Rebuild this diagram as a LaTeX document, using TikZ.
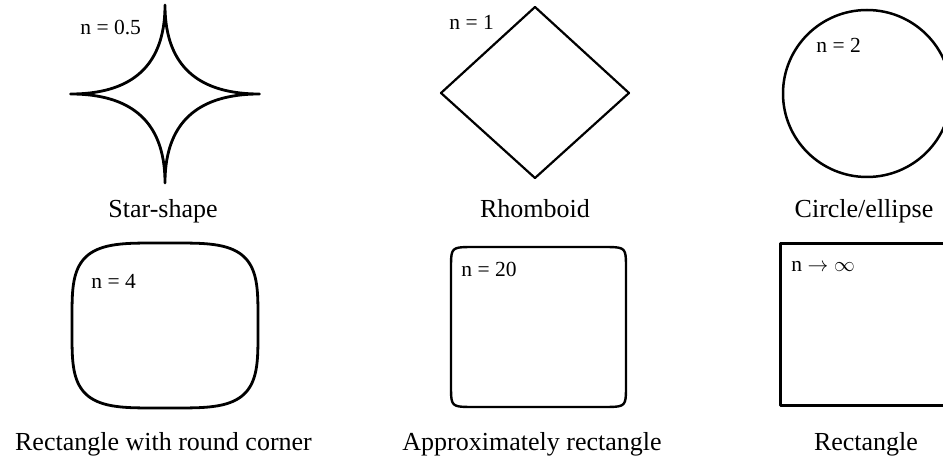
\documentclass[tikz,border=0pt]{standalone}
\usepackage{fontspec}
\setmainfont{Liberation Serif}
\usepackage{tikz}

\begin{document}
\begin{tikzpicture}[x=1pt, y=-1pt, line width=2.8pt, line join=round,
    tag/.style={anchor=base west, inner sep=0pt, font=\fontsize{21.5}{24}\selectfont},
    caption/.style={anchor=base, inner sep=0pt, font=\fontsize{26}{30}\selectfont},
    declare function={cx(\t,\e)=sign(cos(\t))*pow(abs(cos(\t)),\e);
                      sy(\t,\e)=sign(sin(\t))*pow(abs(sin(\t)),\e);}]
    \useasboundingbox (0,0) rectangle (943,462);
    \clip (0,0) rectangle (943,462);
    % top row
    \draw plot[domain=0.5:359.5, samples=360] ({165+94.5*cx(\x,4)}, {94+89*sy(\x,4)}) -- cycle;
    \node[tag] (n05) at (79,35) {n = 0.5};
    \node[caption] (star) at (163,218) {Star-shape};
    \draw[line width=2.2pt] (535,7) -- (629,93) -- (535,178) -- (441,93) -- cycle;
    \node[tag] (n1) at (448,30) {n = 1};
    \node[caption] (rhomb) at (535,218) {Rhomboid};
    \draw[line width=2.5pt] (867,93.5) ellipse [x radius=84, y radius=83.5];
    \node[tag] (n2) at (815,53) {n = 2};
    \node[caption] (circ) at (864,218) {Circle/ellipse};
    % bottom row
    \draw plot[domain=0.5:359.5, samples=360] ({165+93*cx(\x,0.5)}, {325.5+82.5*sy(\x,0.5)}) -- cycle;
    \node[tag] (n4) at (90,289) {n = 4};
    \node[caption] (round) at (163.5,450) {Rectangle with round corner};
    \draw[line width=2.4pt] plot[domain=0.5:359.5, samples=360] ({538.5+87.5*cx(\x,0.1)}, {327+80*sy(\x,0.1)}) -- cycle;
    \node[tag] (n20) at (460,277) {n = 20};
    \node[caption] (approx) at (532,450) {Approximately rectangle};
    \draw[line width=3pt] (780,244) rectangle (955,406);
    \node[tag] (ninf) at (790,272) {n $\rightarrow \infty$};
    \node[caption] (rect) at (866,450) {Rectangle};
\end{tikzpicture}
\end{document}
